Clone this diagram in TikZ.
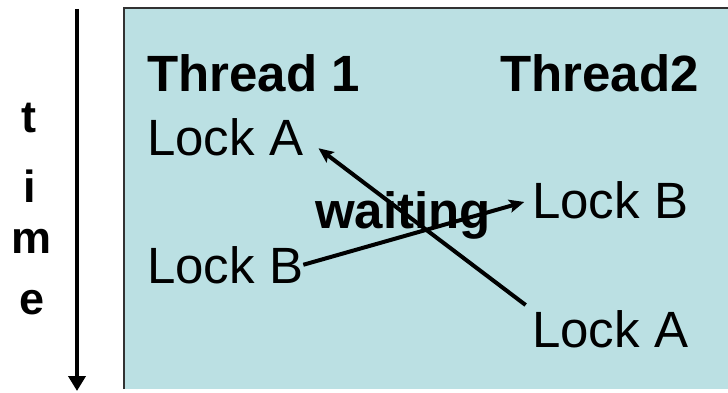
\documentclass[tikz,border=0pt]{standalone}
\usepackage{fontspec}
\setmainfont{Liberation Sans}
\usetikzlibrary{arrows.meta}
\definecolor{boxfill}{RGB}{187,224,227}
\definecolor{boxline}{RGB}{50,50,50}
\begin{document}
\begin{tikzpicture}[x=1pt,y=-1pt,
  lbl/.style={inner sep=0pt, anchor=base west, font=\fontsize{51}{60}\selectfont},
  hdr/.style={lbl, font=\fontsize{51}{60}\selectfont\bfseries},
  tletter/.style={inner sep=0pt, anchor=base, font=\fontsize{45}{50}\selectfont\bfseries},
  conn/.style={line width=4pt, -{Stealth[length=15pt,width=13pt,inset=3pt]}},
]
\useasboundingbox (0,0) rectangle (728,393);
% background panel
\fill[boxfill] (124,8) rectangle (728,389);
\draw[boxline, line width=2pt] (124,389) -- (124,8) -- (728,8);
% time axis
\coordinate (ttop) at (77,9);
\coordinate (tbot) at (77,391);
\draw[line width=4pt, -{Triangle[length=15pt,width=17pt]}] (ttop) -- (tbot);
\node[tletter] (lt) at (29,132) {t};
\node[tletter] (li) at (30,202) {i};
\node[tletter] (lm) at (32,253) {m};
\node[tletter] (le) at (32,314) {e};
% headers
\node[hdr] (th1) at (147,92) {Thread 1};
\node[hdr] (th2) at (500,92) {Thread2};
% locks
\node[lbl] (la1) at (147,155) {Lock A};
\node[lbl] (lb1) at (147,283) {Lock B};
\node[lbl] (lb2) at (532,218) {Lock B};
\node[lbl] (la2) at (532,347) {Lock A};
% waiting label
\node[hdr] (wt) at (315,228) {waiting};
% connectors
\draw[conn, shorten >=8pt] (lb1.east) -- (lb2.west);
\draw[conn, shorten <=8pt, shorten >=19pt] (la2.north west) -- (la1.east);
\end{tikzpicture}
\end{document}
